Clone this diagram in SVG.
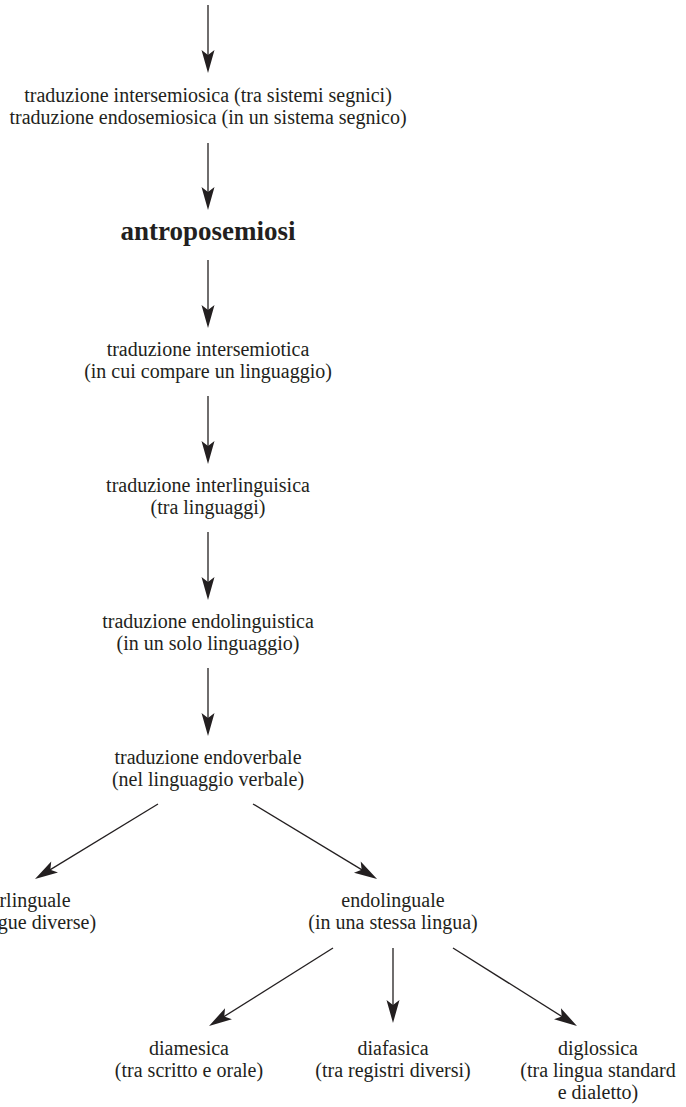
<svg xmlns="http://www.w3.org/2000/svg" width="686" height="1107" viewBox="0 0 686 1107">
<style>
text{font-family:"Liberation Serif","Times New Roman",serif;font-size:20px;fill:#231f20;text-anchor:middle}
.b{font-weight:bold;font-size:27px}
.c line{stroke:#231f20;stroke-width:1.3;fill:none;marker-end:url(#ah)}
</style>
<defs>
<marker id="ah" markerUnits="userSpaceOnUse" markerWidth="24" markerHeight="14" refX="17" refY="7" orient="auto" overflow="visible">
<path d="M0,0.5 L23,7 L0,13.5 L5,7 Z" fill="#231f20"/>
</marker>
</defs>
<rect width="686" height="1107" fill="#ffffff"/>
<g id="connectors" class="c">
<line x1="208" y1="5" x2="208" y2="67"/>
<line x1="208" y1="143" x2="208" y2="204"/>
<line x1="208" y1="260" x2="208" y2="322"/>
<line x1="208" y1="396" x2="208" y2="458"/>
<line x1="208" y1="532" x2="208" y2="594"/>
<line x1="208" y1="668" x2="208" y2="730"/>
<line x1="158" y1="804" x2="40.1" y2="875.9"/>
<line x1="253" y1="804" x2="371.9" y2="875.9"/>
<line x1="333" y1="948" x2="214.1" y2="1022.8"/>
<line x1="393" y1="948" x2="393" y2="1017"/>
<line x1="453" y1="948" x2="571.9" y2="1022.8"/>
</g>
<g id="semiosi">
<text x="208" y="102">traduzione intersemiosica (tra sistemi segnici)</text>
<text x="208" y="124">traduzione endosemiosica (in un sistema segnico)</text>
</g>
<g id="antroposemiosi">
<text class="b" x="208" y="240">antroposemiosi</text>
</g>
<g id="intersemiotica">
<text x="208" y="356">traduzione intersemiotica</text>
<text x="208" y="378">(in cui compare un linguaggio)</text>
</g>
<g id="interlinguisica">
<text x="208" y="492">traduzione interlinguisica</text>
<text x="208" y="514">(tra linguaggi)</text>
</g>
<g id="endolinguistica">
<text x="208" y="628">traduzione endolinguistica</text>
<text x="208" y="650">(in un solo linguaggio)</text>
</g>
<g id="endoverbale">
<text x="208" y="764">traduzione endoverbale</text>
<text x="208" y="786">(nel linguaggio verbale)</text>
</g>
<g id="interlinguale">
<text x="20" y="907">interlinguale</text>
<text x="20" y="929">(tra lingue diverse)</text>
</g>
<g id="endolinguale">
<text x="393" y="907">endolinguale</text>
<text x="393" y="929">(in una stessa lingua)</text>
</g>
<g id="diamesica">
<text x="189" y="1055">diamesica</text>
<text x="189" y="1077">(tra scritto e orale)</text>
</g>
<g id="diafasica">
<text x="393" y="1055">diafasica</text>
<text x="393" y="1077">(tra registri diversi)</text>
</g>
<g id="diglossica">
<text x="598" y="1055">diglossica</text>
<text x="598" y="1077">(tra lingua standard</text>
<text x="598" y="1099">e dialetto)</text>
</g>
</svg>
